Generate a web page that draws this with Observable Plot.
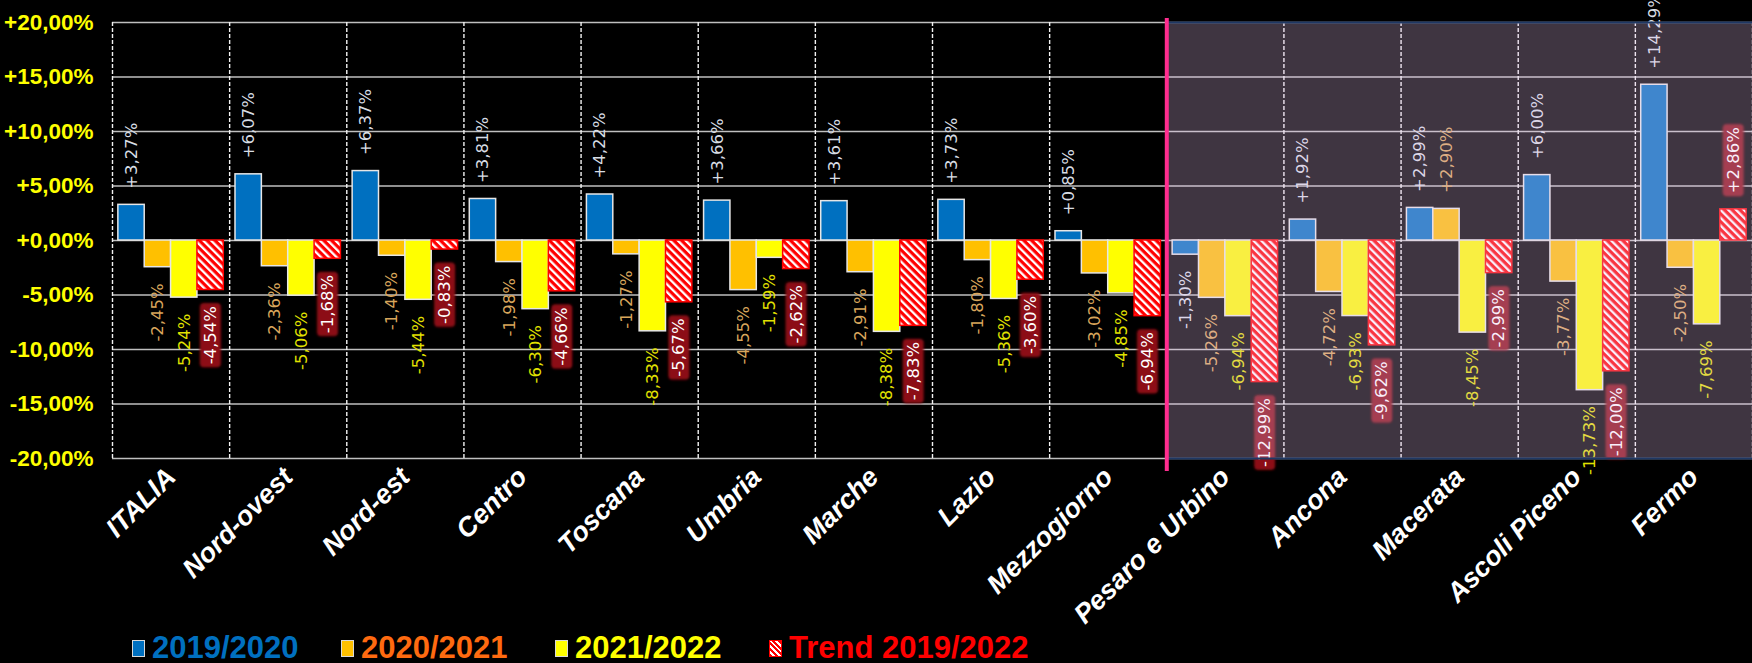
<!DOCTYPE html>
<html>
<head>
<meta charset="utf-8">
<script src="https://cdn.jsdelivr.net/npm/d3@7"></script>
<script src="https://cdn.jsdelivr.net/npm/@observablehq/plot@0.6"></script>
<style>
  html, body { margin: 0; padding: 0; background: #000; }
  body { width: 1752px; height: 663px; overflow: hidden; position: relative; }
  #chart svg { display: block; overflow: visible; }
  .legend-item { position: absolute; top: 628px; height: 40px; display: flex; align-items: center;
    font-family: "Liberation Sans Narrow", "Liberation Sans", sans-serif; font-weight: bold; font-size: 31px; white-space: nowrap; }
  .sw { display: inline-block; width: 11px; height: 15px; border: 1.5px solid #d9d9d9; margin-right: 7px; }
</style>
</head>
<body>
<div id="chart"></div>
<div id="legend"></div>
<script>
// ---- data ----
const categories = ["ITALIA", "Nord-ovest", "Nord-est", "Centro", "Toscana", "Umbria", "Marche", "Lazio",
  "Mezzogiorno", "Pesaro e Urbino", "Ancona", "Macerata", "Ascoli Piceno", "Fermo"];
const v2019_2020 = [3.27, 6.07, 6.37, 3.81, 4.22, 3.66, 3.61, 3.73, 0.85, -1.30, 1.92, 2.99, 6.00, 14.29];
const v2020_2021 = [-2.45, -2.36, -1.40, -1.98, -1.27, -4.55, -2.91, -1.80, -3.02, -5.26, -4.72, 2.90, -3.77, -2.50];
const v2021_2022 = [-5.24, -5.06, -5.44, -6.30, -8.33, -1.59, -8.38, -5.36, -4.85, -6.94, -6.93, -8.45, -13.73, -7.69];
const trend2019_2022 = [-4.54, -1.68, -0.83, -4.66, -5.67, -2.62, -7.83, -3.60, -6.94, -12.99, -9.62, -2.99, -12.00, 2.86];
const seriesNames = ["2019/2020", "2020/2021", "2021/2022", "Trend 2019/2022"];
const yTicks = [-20, -15, -10, -5, 0, 5, 10, 15, 20];
const provinceStartName = "Pesaro e Urbino";

// ---- styling ----
const seriesValues = [v2019_2020, v2020_2021, v2021_2022, trend2019_2022];
const barFills = ["#0070c0", "#ffc000", "#ffff00", "url(#hatch)"];
const barStrokes = ["#e6e6e6", "#e6e6e6", "#e6e6e6", "#ff0000"];
const labelColors = ["#d8dde4", "#d9a65c", "#e2e200", "#fffffe"];
const legendColors = ["#0070c0", "#ff6a10", "#ffff00", "#ff0000"];
const legendLefts = [132, 341, 555, 769];
const swatchBg = ["#0070c0", "#ffc000", "#ffff00",
  "repeating-linear-gradient(45deg, #ff0000 0 2px, #ffffff 2px 4px)"];

const rows = categories.flatMap((c, i) => seriesValues.map((vals, j) => ({i, j, category: c, series: seriesNames[j], value: vals[i]})));
const n = categories.length;
const split = categories.indexOf(provinceStartName);
const yDomain = [d3.min(yTicks), d3.max(yTicks)];
const lead = 0.05, slot = 0.225;
const bx1 = d => d.i + lead + d.j * slot;
const bx2 = d => bx1(d) + slot;
const bxc = d => bx1(d) + slot / 2;
const fmt = v => (v >= 0 ? "+" : "") + v.toFixed(2).replace(".", ",") + "%";
const labelFont = "DejaVu Sans, Verdana, sans-serif";

const marks = [
  Plot.ruleY(yTicks, {stroke: "#bfbfbf", strokeWidth: 1.6}),
  Plot.ruleX(d3.range(n + 1), {y1: yDomain[1], y2: yDomain[0], stroke: "#f2f2f2", strokeWidth: 1.4, strokeDasharray: "4,2"})
];
seriesNames.forEach((s, j) => {
  const data = rows.filter(d => d.j === j);
  marks.push(Plot.rect(data, {x1: bx1, x2: bx2, y1: 0, y2: "value", fill: barFills[j], stroke: barStrokes[j], strokeWidth: 1.5}));
});
seriesNames.forEach((s, j) => {
  const data = rows.filter(d => d.j === j);
  const common = {x: bxc, y: "value", text: d => fmt(d.value), rotate: -90, fill: labelColors[j],
    fontSize: 16.5, fontFamily: labelFont};
  marks.push(Plot.text(data.filter(d => d.value >= 0), {...common, textAnchor: "start", dy: -16}));
  marks.push(Plot.text(data.filter(d => d.value < 0), {...common, textAnchor: "end", dy: 16}));
});
marks.push(
  Plot.rect([0], {x1: split, x2: n, y1: yDomain[0], y2: yDomain[1], fill: "#e9c4f0", fillOpacity: 0.27}),
  Plot.ruleY(yDomain, {x1: split, x2: n, stroke: "#1f3864", strokeWidth: 2}),
  Plot.ruleX([split], {y1: yDomain[1], y2: yDomain[0], stroke: "#ff2d8f", strokeWidth: 4, insetTop: -4, insetBottom: -13}),
  Plot.axisY(yTicks, {tickFormat: fmt, tickSize: 0, tickPadding: 19, fontSize: 22.5, fontWeight: "bold",
    fontFamily: "Liberation Sans Narrow, Liberation Sans, sans-serif", fill: "#ffff00", label: null}),
  Plot.axisX(d3.range(n).map(i => i + 0.5), {tickFormat: d => categories[Math.floor(d)], tickRotate: -45, tickSize: 0,
    tickPadding: 14, fontSize: 27, fontWeight: "bold", fontStyle: "italic",
    fontFamily: "Liberation Sans, Arial, sans-serif", fill: "#ffffff", label: null})
);

const svg = Plot.plot({
  width: 1752, height: 615,
  marginLeft: 112, marginRight: 0, marginTop: 22, marginBottom: 157,
  x: {domain: [0, n]},
  y: {domain: yDomain},
  style: {background: "#000", color: "#fff", overflow: "visible"},
  marks
});

const defs = d3.select(svg).insert("defs", ":first-child");
const pat = defs.append("pattern").attr("id", "hatch").attr("patternUnits", "userSpaceOnUse")
  .attr("width", 5.5).attr("height", 5.5).attr("patternTransform", "rotate(-45)");
pat.append("rect").attr("width", 5.5).attr("height", 5.5).attr("fill", "#ff0000");
pat.append("rect").attr("width", 2.3).attr("height", 5.5).attr("fill", "#ffffff");
const glow = defs.append("filter").attr("id", "glow").attr("x", "-30%").attr("y", "-30%").attr("width", "160%").attr("height", "160%");
glow.append("feGaussianBlur").attr("stdDeviation", 1.3);
document.getElementById("chart").appendChild(svg);

// dark red rounded boxes behind the trend labels
const trendTexts = [];
svg.querySelectorAll("text").forEach(t => {
  const f = (t.getAttribute("fill") || (t.parentNode && t.parentNode.getAttribute("fill")) || "").toLowerCase();
  if (f === "#fffffe") trendTexts.push(t);
});
trendTexts.forEach(t => {
  const b = t.getBBox();
  const r = document.createElementNS("http://www.w3.org/2000/svg", "rect");
  r.setAttribute("x", b.x - 3);
  r.setAttribute("y", b.y - 1);
  r.setAttribute("width", b.width + 6);
  r.setAttribute("height", b.height + 2);
  r.setAttribute("rx", 4);
  r.setAttribute("fill", "#8c0a12");
  r.setAttribute("filter", "url(#glow)");
  const tr = t.getAttribute("transform");
  if (tr) r.setAttribute("transform", tr);
  t.parentNode.insertBefore(r, t);
});

const legend = document.getElementById("legend");
seriesNames.forEach((s, j) => {
  const item = document.createElement("div");
  item.className = "legend-item";
  item.style.left = legendLefts[j] + "px";
  item.style.color = legendColors[j];
  const sw = document.createElement("span");
  sw.className = "sw";
  sw.style.background = swatchBg[j];
  if (j === 3) sw.style.borderColor = "#ff0000";
  item.appendChild(sw);
  item.appendChild(document.createTextNode(s));
  legend.appendChild(item);
});
</script>
</body>
</html>
